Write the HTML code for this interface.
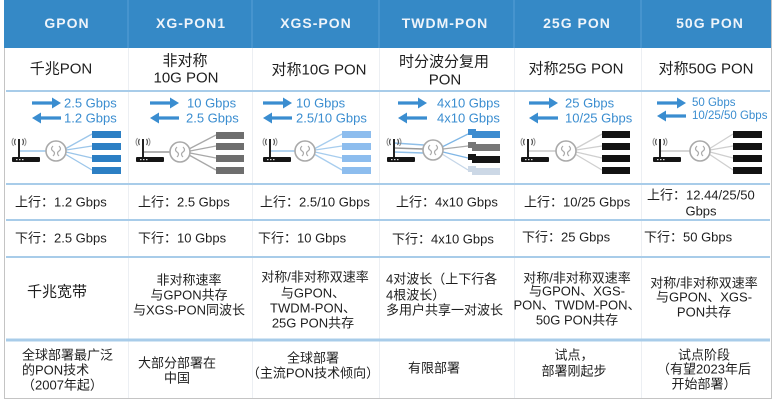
<!DOCTYPE html>
<html><head><meta charset="utf-8"><style>
html,body{margin:0;padding:0;background:#fff;width:784px;height:403px;overflow:hidden}
svg{display:block}
text{font-family:"Liberation Sans","Noto Sans CJK SC",sans-serif;fill:#1e1e1e}
.h{font-weight:bold;font-size:14px;fill:#eef4fa;letter-spacing:1px}
.n{font-size:15px}
.r{font-size:13px;fill:#3a8dd0}
.b{font-size:13px}
</style></head><body>
<svg width="784" height="403" viewBox="0 0 784 403" xmlns="http://www.w3.org/2000/svg">
<defs>
<g id="rt">
  <line x1="7" y1="139" x2="7" y2="157" stroke="#222" stroke-width="2"/>
  <path d="M3.5 139 q-2 3 0 6 M10.5 139 q2 3 0 6" stroke="#555" stroke-width="1.2" fill="none"/>
  <path d="M1.5 138 q-3 4 0 8 M12.5 138 q3 4 0 8" stroke="#888" stroke-width="1" fill="none"/>
  <rect x="0" y="157" width="28" height="5" rx="1" fill="#151515"/>
  <rect x="4" y="159" width="1.5" height="1.2" fill="#ddd"/><rect x="7" y="159" width="1.5" height="1.2" fill="#ddd"/><rect x="10" y="159" width="1.5" height="1.2" fill="#ddd"/>
</g>
<g id="sp">
  <circle cx="0" cy="0" r="10" fill="#fff" stroke="#a9a9a9" stroke-width="1.6"/>
  <path d="M-3 -5 q-3 3 0 5 q3 2 0 5 M3 -5 q3 3 0 5 q-3 2 0 5" stroke="#aaa" stroke-width="1.2" fill="none"/>
</g>
<g id="ar">
  <line x1="0" y1="0" x2="22" y2="0" stroke="#3a8dd0" stroke-width="3.2"/>
  <polygon points="20,-5.5 29,0 20,5.5" fill="#3a8dd0"/>
</g>
<g id="al">
  <line x1="7" y1="0" x2="29" y2="0" stroke="#3a8dd0" stroke-width="3.2"/>
  <polygon points="9,-5.5 0,0 9,5.5" fill="#3a8dd0"/>
</g>
</defs>

<!-- header -->
<rect x="4" y="0" width="767" height="48" fill="#3589c6"/>
<g stroke="#4d98d0" stroke-width="1.5">
<line x1="128" y1="0" x2="128" y2="48"/><line x1="252" y1="0" x2="252" y2="48"/><line x1="379" y1="0" x2="379" y2="48"/><line x1="514" y1="0" x2="514" y2="48"/><line x1="641" y1="0" x2="641" y2="48"/>
</g>
<g text-anchor="middle" dominant-baseline="central">
<text class="h" x="67" y="23">GPON</text>
<text class="h" x="191" y="23">XG-PON1</text>
<text class="h" x="316" y="23">XGS-PON</text>
<text class="h" x="445" y="23">TWDM-PON</text>
<text class="h" x="577" y="23">25G PON</text>
<text class="h" x="710" y="23">50G PON</text>
</g>

<!-- borders and dividers -->
<g stroke="#eceff3" stroke-width="1">
<line x1="128.5" y1="48" x2="128.5" y2="398"/><line x1="252.5" y1="48" x2="252.5" y2="398"/><line x1="379.5" y1="48" x2="379.5" y2="398"/><line x1="514.5" y1="48" x2="514.5" y2="398"/><line x1="641.5" y1="48" x2="641.5" y2="398"/>
</g>
<g stroke="#c4c4c4" stroke-width="1">
<line x1="4.5" y1="48" x2="4.5" y2="398.5"/><line x1="771.5" y1="0" x2="771.5" y2="398.5"/><line x1="4" y1="398.5" x2="772" y2="398.5"/>
</g>
<g stroke="#a8cce9" stroke-width="2">
<line x1="6" y1="91" x2="770" y2="91"/><line x1="6" y1="184" x2="770" y2="184"/><line x1="6" y1="220" x2="770" y2="220"/><line x1="6" y1="257" x2="770" y2="257"/>
</g>
<line x1="6" y1="340" x2="770" y2="340" stroke="#a8cce9" stroke-width="3"/>

<!-- row 2 -->
<g text-anchor="middle" dominant-baseline="central">
<text class="n" x="61" y="69">千兆PON</text>
<text class="n" x="185" y="61">非对称</text>
<text class="n" x="186" y="78">10G PON</text>
<text class="n" x="319" y="70">对称10G PON</text>
<text class="n" x="444" y="62">时分波分复用</text>
<text class="n" x="445" y="80">PON</text>
<text class="n" x="576" y="69">对称25G PON</text>
<text class="n" x="706" y="69">对称50G PON</text>
</g>

<!-- row 3 arrows & rates -->
<use href="#ar" x="32" y="103"/><use href="#al" x="32" y="118"/>
<use href="#ar" x="150" y="103"/><use href="#al" x="150" y="118"/>
<use href="#ar" x="263" y="103"/><use href="#al" x="263" y="118"/>
<use href="#ar" x="398" y="103"/><use href="#al" x="398" y="118"/>
<use href="#ar" x="529" y="103"/><use href="#al" x="529" y="118"/>
<use href="#ar" x="657" y="103"/><use href="#al" x="657" y="116"/>
<g dominant-baseline="central">
<text class="r" x="64" y="103">2.5 Gbps</text><text class="r" x="64" y="118">1.2 Gbps</text>
<text class="r" x="187" y="103">10 Gbps</text><text class="r" x="186" y="118">2.5 Gbps</text>
<text class="r" x="296" y="103">10 Gbps</text><text class="r" x="296" y="118">2.5/10 Gbps</text>
<text class="r" x="437" y="103">4x10 Gbps</text><text class="r" x="437" y="118">4x10 Gbps</text>
<text class="r" x="565" y="103">25 Gbps</text><text class="r" x="565" y="118">10/25 Gbps</text>
<text class="r" x="692" y="103" style="font-size:11.5px">50 Gbps</text><text class="r" x="692" y="116" style="font-size:11.5px">10/25/50 Gbps</text>
</g>

<!-- icons: GPON -->
<g>
<line x1="20" y1="151" x2="48" y2="151" stroke="#9cc6ea" stroke-width="1.5"/>
<g stroke="#9cc6ea" stroke-width="1.3"><line x1="65" y1="149" x2="92" y2="134"/><line x1="66" y1="150" x2="92" y2="146"/><line x1="66" y1="152" x2="92" y2="158"/><line x1="65" y1="154" x2="92" y2="170"/></g>
<use href="#rt" x="12" y="0"/><use href="#sp" x="56" y="151"/>
<g fill="#2c7fc4"><rect x="92" y="131" width="29" height="7"/><rect x="92" y="143" width="29" height="7"/><rect x="92" y="155" width="29" height="7"/><rect x="92" y="167" width="29" height="7"/></g>
</g>
<!-- XG-PON1 -->
<g>
<line x1="143" y1="152" x2="172" y2="152" stroke="#999" stroke-width="1.5"/>
<g stroke="#a8a8a8" stroke-width="1.3"><line x1="189" y1="149" x2="216" y2="135"/><line x1="190" y1="151" x2="216" y2="146"/><line x1="190" y1="153" x2="216" y2="158"/><line x1="189" y1="155" x2="216" y2="170"/></g>
<use href="#rt" x="136" y="0"/><use href="#sp" x="180" y="152"/>
<g fill="#6e6e6e"><rect x="216" y="132" width="28" height="7"/><rect x="216" y="143" width="28" height="7"/><rect x="216" y="155" width="28" height="7"/><rect x="216" y="167" width="28" height="7"/></g>
</g>
<!-- XGS-PON -->
<g>
<line x1="270" y1="151" x2="297" y2="151" stroke="#9cc6ea" stroke-width="1.5"/>
<g stroke="#a7cdee" stroke-width="1.3"><line x1="314" y1="149" x2="342" y2="134"/><line x1="315" y1="150" x2="342" y2="146"/><line x1="315" y1="152" x2="342" y2="158"/><line x1="314" y1="154" x2="342" y2="170"/></g>
<use href="#rt" x="263" y="0"/><use href="#sp" x="305" y="151"/>
<g fill="#8dbdee"><rect x="342" y="131" width="29" height="7"/><rect x="342" y="143" width="29" height="7"/><rect x="342" y="155" width="29" height="7"/><rect x="342" y="167" width="29" height="7"/></g>
</g>
<!-- TWDM-PON -->
<g>
<line x1="394" y1="143" x2="424" y2="145" stroke="#8fbfe8" stroke-width="1.5"/>
<line x1="394" y1="148" x2="423" y2="149" stroke="#999" stroke-width="1.5"/>
<line x1="394" y1="152" x2="423" y2="153" stroke="#8fbfe8" stroke-width="1.5"/>
<g stroke-width="1.3"><line x1="442" y1="147" x2="468" y2="134" stroke="#7fb6e6"/><line x1="443" y1="149" x2="468" y2="146" stroke="#aaa"/><line x1="443" y1="152" x2="468" y2="158" stroke="#7fb6e6"/><line x1="442" y1="154" x2="468" y2="170" stroke="#c5d6e8"/></g>
<use href="#rt" x="387" y="0"/><use href="#sp" x="433" y="150"/>
<rect x="468" y="129" width="8" height="6" fill="#3d8cd0"/><rect x="472" y="131" width="28" height="7" fill="#3d8cd0"/>
<rect x="468" y="142" width="8" height="6" fill="#777"/><rect x="472" y="144" width="28" height="7" fill="#777"/>
<rect x="468" y="154" width="8" height="6" fill="#151515"/><rect x="472" y="156" width="28" height="7" fill="#151515"/>
<rect x="468" y="166" width="8" height="6" fill="#ccd8e6"/><rect x="472" y="168" width="28" height="7" fill="#ccd8e6"/>
</g>
<!-- 25G PON -->
<g>
<line x1="528" y1="151" x2="556" y2="151" stroke="#c8c8c8" stroke-width="1.5"/>
<g stroke="#cfcfcf" stroke-width="1.3"><line x1="575" y1="149" x2="602" y2="134"/><line x1="576" y1="150" x2="602" y2="146"/><line x1="576" y1="152" x2="602" y2="158"/><line x1="575" y1="154" x2="602" y2="170"/></g>
<use href="#rt" x="521" y="0"/><use href="#sp" x="566" y="151"/>
<g fill="#121212"><rect x="602" y="131" width="28" height="7"/><rect x="602" y="143" width="28" height="7"/><rect x="602" y="155" width="28" height="7"/><rect x="602" y="167" width="28" height="7"/></g>
</g>
<!-- 50G PON -->
<g>
<line x1="660" y1="151" x2="690" y2="151" stroke="#c8c8c8" stroke-width="1.5"/>
<g stroke="#cfcfcf" stroke-width="1.3"><line x1="709" y1="149" x2="733" y2="134"/><line x1="710" y1="150" x2="733" y2="146"/><line x1="710" y1="152" x2="733" y2="158"/><line x1="709" y1="154" x2="733" y2="170"/></g>
<use href="#rt" x="653" y="0"/><use href="#sp" x="700" y="151"/>
<g fill="#121212"><rect x="733" y="131" width="29" height="7"/><rect x="733" y="143" width="29" height="7"/><rect x="733" y="155" width="29" height="7"/><rect x="733" y="167" width="29" height="7"/></g>
</g>

<!-- row 4 / 5 -->
<g dominant-baseline="central">
<text class="b" x="15" y="202">上行：1.2 Gbps</text>
<text class="b" x="138" y="202">上行：2.5 Gbps</text>
<text class="b" x="260" y="202">上行：2.5/10 Gbps</text>
<text class="b" x="396" y="202">上行：4x10 Gbps</text>
<text class="b" x="524" y="202">上行：10/25 Gbps</text>
<text class="b" x="647" y="195">上行：12.44/25/50</text>
<text class="b" x="701" y="211" text-anchor="middle">Gbps</text>
<text class="b" x="15" y="238">下行：2.5 Gbps</text>
<text class="b" x="138" y="238">下行：10 Gbps</text>
<text class="b" x="258" y="238">下行：10 Gbps</text>
<text class="b" x="392" y="239">下行：4x10 Gbps</text>
<text class="b" x="522" y="237">下行：25 Gbps</text>
<text class="b" x="644" y="237">下行：50 Gbps</text>
</g>

<!-- row 6 -->
<g dominant-baseline="central" text-anchor="middle">
<text class="n" x="57" y="292">千兆宽带</text>
<text class="b" x="189" y="280">非对称速率</text>
<text class="b" x="189" y="295">与GPON共存</text>
<text class="b" x="189" y="310">与XGS-PON同波长</text>
<text class="b" x="315" y="277">对称/非对称双速率</text>
<text class="b" x="313" y="293">与GPON、</text>
<text class="b" x="313" y="308">TWDM-PON、</text>
<text class="b" x="313" y="323">25G PON共存</text>
<text class="b" x="577" y="278">对称/非对称双速率</text>
<text class="b" x="577" y="291">与GPON、XGS-</text>
<text class="b" x="577" y="305">PON、TWDM-PON、</text>
<text class="b" x="577" y="320">50G PON共存</text>
<text class="b" x="704" y="283">对称/非对称双速率</text>
<text class="b" x="704" y="297">与GPON、XGS-</text>
<text class="b" x="704" y="312">PON共存</text>
</g>
<g dominant-baseline="central">
<text class="b" x="386" y="279">4对波长（上下行各</text>
<text class="b" x="386" y="295">4根波长）</text>
<text class="b" x="386" y="310">多用户共享一对波长</text>
</g>

<!-- row 7 -->
<g dominant-baseline="central">
<text class="b" x="22" y="355">全球部署最广泛</text>
<text class="b" x="22" y="370">的PON技术</text>
<text class="b" x="22" y="385">（2007年起）</text>
</g>
<g dominant-baseline="central" text-anchor="middle">
<text class="b" x="177" y="363">大部分部署在</text>
<text class="b" x="177" y="378">中国</text>
<text class="b" x="313" y="358">全球部署</text>
<text class="b" x="313" y="373">（主流PON技术倾向）</text>
<text class="b" x="434" y="368">有限部署</text>
<text class="b" x="574" y="355">试点，</text>
<text class="b" x="574" y="371">部署刚起步</text>
<text class="b" x="704" y="355">试点阶段</text>
<text class="b" x="704" y="369">（有望2023年后</text>
<text class="b" x="704" y="384">开始部署）</text>
</g>
</svg>
</body></html>
